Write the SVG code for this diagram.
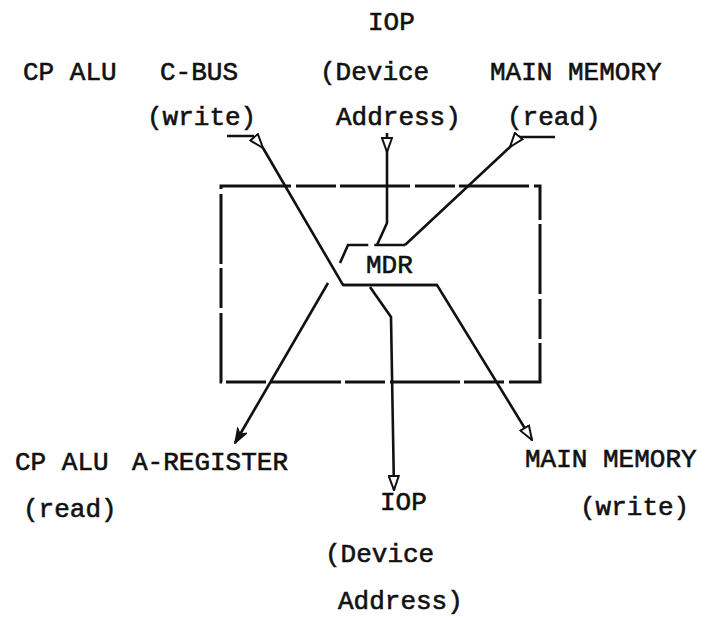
<svg xmlns="http://www.w3.org/2000/svg" width="712" height="617" viewBox="0 0 712 617">
<style>
text{font-family:"Liberation Mono","Courier New",monospace;font-size:26px;fill:#111;stroke:#111;stroke-width:0.6}
.ln{fill:none;stroke:#111;stroke-width:2.6;stroke-linejoin:miter}
.box{fill:none;stroke:#111;stroke-width:3;stroke-dasharray:70 5 40 4}
</style>
<defs>
<marker id="open" viewBox="0 0 16 12" refX="15" refY="6" markerWidth="16" markerHeight="12" markerUnits="userSpaceOnUse" orient="auto">
<path d="M1,1 L15,6 L1,11 Z" fill="#fff" stroke="#111" stroke-width="2"/>
</marker>
<marker id="solid" viewBox="0 0 16 12" refX="15" refY="6" markerWidth="16" markerHeight="12" markerUnits="userSpaceOnUse" orient="auto">
<path d="M1,1 L15,6 L1,11 L5,6 Z" fill="#111" stroke="#111" stroke-width="1.5"/>
</marker>
</defs>
<rect width="712" height="617" fill="#fff"/>

<g id="frame">
<rect class="box" x="221" y="186" width="319" height="196"/>
</g>

<g id="mdr">
<path class="ln" d="M340,263 L348,245 L405,245" stroke-dasharray="40 6"/>
<path class="ln" d="M343,285 L437,285"/>
<text x="366" y="273">MDR</text>
</g>

<g id="src-cpalu-cbus">
<text x="23" y="80">CP ALU</text>
<text x="160" y="80">C-BUS</text>
<text x="147" y="125">(write)</text>
</g>
<g id="src-iop">
<text x="368" y="30">IOP</text>
<text x="320" y="80">(Device</text>
<text x="336" y="125">Address)</text>
</g>
<g id="src-mainmem">
<text x="490" y="80">MAIN MEMORY</text>
<text x="507" y="125">(read)</text>
</g>
<g id="dst-aregister">
<text x="15" y="470">CP ALU</text>
<text x="132" y="470">A-REGISTER</text>
<text x="23" y="517">(read)</text>
</g>
<g id="dst-iop">
<text x="380" y="510">IOP</text>
<text x="325" y="562">(Device</text>
<text x="338" y="609">Address)</text>
</g>
<g id="dst-mainmem">
<text x="525" y="467">MAIN MEMORY</text>
<text x="580" y="515">(write)</text>
</g>

<g id="connectors">
<path class="ln" d="M227,136 H253 L263,148" marker-end="url(#open)"/>
<path class="ln" d="M263,148 L343,285 H437 L532,440" marker-end="url(#open)"/>
<path class="ln" d="M555,137 H518 L510,147" marker-end="url(#open)"/>
<path class="ln" d="M510,147 L405,245"/>
<path class="ln" d="M387,133 V152" marker-end="url(#open)"/>
<path class="ln" d="M387,152 V223 L377,245"/>
<path class="ln" d="M328,283 L235,443" marker-end="url(#solid)"/>
<path class="ln" d="M370,287 L391,317 L394,490" marker-end="url(#open)"/>
</g>
</svg>
